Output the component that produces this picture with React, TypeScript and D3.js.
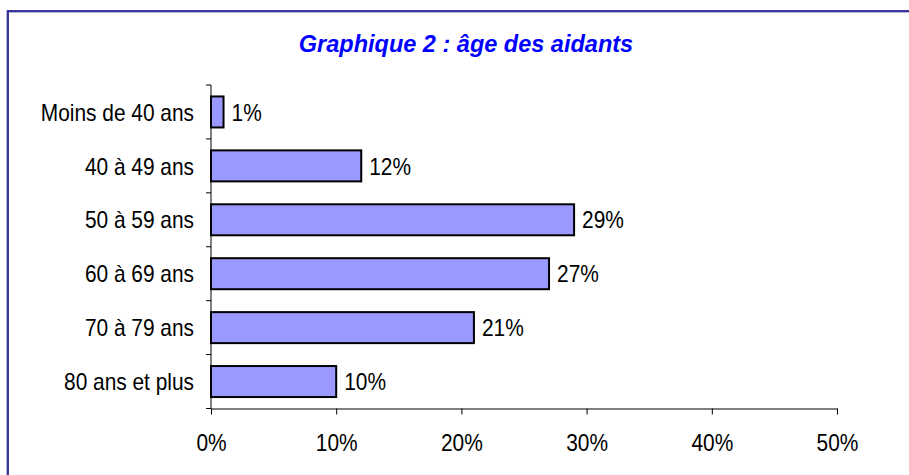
import React, { useEffect, useRef } from "react";
import * as d3 from "d3";

const categories = [
  "Moins de 40 ans",
  "40 à 49 ans",
  "50 à 59 ans",
  "60 à 69 ans",
  "70 à 79 ans",
  "80 ans et plus",
];
const values = [0.01, 0.12, 0.29, 0.27, 0.21, 0.1];
const xTicks = [0, 0.1, 0.2, 0.3, 0.4, 0.5];
const title = "Graphique 2 : âge des aidants";

const App = () => {
  const ref = useRef<SVGSVGElement | null>(null);

  useEffect(() => {
    const svg = d3.select(ref.current);
    svg.selectAll("*").remove();

    const width = 909;
    const height = 475;
    const margin = { top: 85, left: 211, right: 72, bottom: 66.5 };
    const font = "'Liberation Sans', Arial, sans-serif";
    const squeeze = "scale(0.87,1)";

    // frame around the whole figure (runs past the window on right/bottom)
    svg
      .append("rect")
      .attr("x", 7.8)
      .attr("y", 11.2)
      .attr("width", width + 20)
      .attr("height", height + 20)
      .attr("fill", "none")
      .attr("stroke", "#333399")
      .attr("stroke-width", 2.3);

    svg
      .append("text")
      .attr("x", 466)
      .attr("y", 52)
      .attr("text-anchor", "middle")
      .attr("font-family", font)
      .attr("font-size", 23.5)
      .attr("font-weight", "bold")
      .attr("font-style", "italic")
      .attr("fill", "#0000ff")
      .text(title);

    const x = d3
      .scaleLinear()
      .domain([0, 0.5])
      .range([margin.left, width - margin.right]);

    const y = d3
      .scaleBand()
      .domain(categories)
      .range([margin.top, height - margin.bottom])
      .paddingInner(0.425)
      .paddingOuter(0.2125);

    const y0 = y.range()[0];
    const y1 = y.range()[1];
    const step = y.step();

    // === BARS ===
    svg
      .append("g")
      .selectAll("rect")
      .data(values)
      .join("rect")
      .attr("x", x(0))
      .attr("y", (d, i) => y(categories[i]) as number)
      .attr("width", d => x(d) - x(0))
      .attr("height", y.bandwidth())
      .attr("fill", "#9999ff")
      .attr("stroke", "#000")
      .attr("stroke-width", 2);

    // value labels
    svg
      .append("g")
      .selectAll("text")
      .data(values)
      .join("text")
      .attr("transform", (d, i) => `translate(${x(d) + 8},${(y(categories[i]) as number) + y.bandwidth() / 2}) ${squeeze}`)
      .attr("dy", "0.36em")
      .attr("font-family", font)
      .attr("font-size", 24)
      .attr("fill", "#000")
      .text(d => d3.format(".0%")(d));

    // === X AXIS ===
    svg
      .append("g")
      .attr("transform", `translate(0,${y1})`)
      .call(d3.axisBottom(x).tickValues(xTicks).tickSize(6).tickSizeOuter(0).tickFormat(d3.format(".0%")))
      .call(g => g.select(".domain").attr("stroke", "#000"))
      .call(g => g.selectAll(".tick line").attr("stroke", "#000"))
      .call(g =>
        g
          .selectAll(".tick text")
          .attr("y", 0)
          .attr("dy", null)
          .attr("transform", `translate(0,42.5) ${squeeze}`)
          .attr("font-family", font)
          .attr("font-size", 24)
          .attr("fill", "#000")
      );

    // === Y AXIS ===
    const yAxis = svg.append("g");
    yAxis
      .append("line")
      .attr("x1", x(0))
      .attr("x2", x(0))
      .attr("y1", y0)
      .attr("y2", y1)
      .attr("stroke", "#000");
    yAxis
      .selectAll(".bound")
      .data(d3.range(categories.length + 1))
      .join("line")
      .attr("class", "bound")
      .attr("x1", x(0) - 5)
      .attr("x2", x(0))
      .attr("y1", i => y0 + i * step)
      .attr("y2", i => y0 + i * step)
      .attr("stroke", "#000");
    yAxis
      .selectAll("text")
      .data(categories)
      .join("text")
      .attr("transform", d => `translate(${x(0) - 17},${(y(d) as number) + y.bandwidth() / 2}) ${squeeze}`)
      .attr("dy", "0.36em")
      .attr("text-anchor", "end")
      .attr("font-family", font)
      .attr("font-size", 24)
      .attr("fill", "#000")
      .text(d => d);
  }, []);

  return (
    <svg
      ref={ref}
      width={909}
      height={475}
      style={{ position: "fixed", left: 0, top: 0, background: "#fff" }}
    />
  );
};

export default App;
